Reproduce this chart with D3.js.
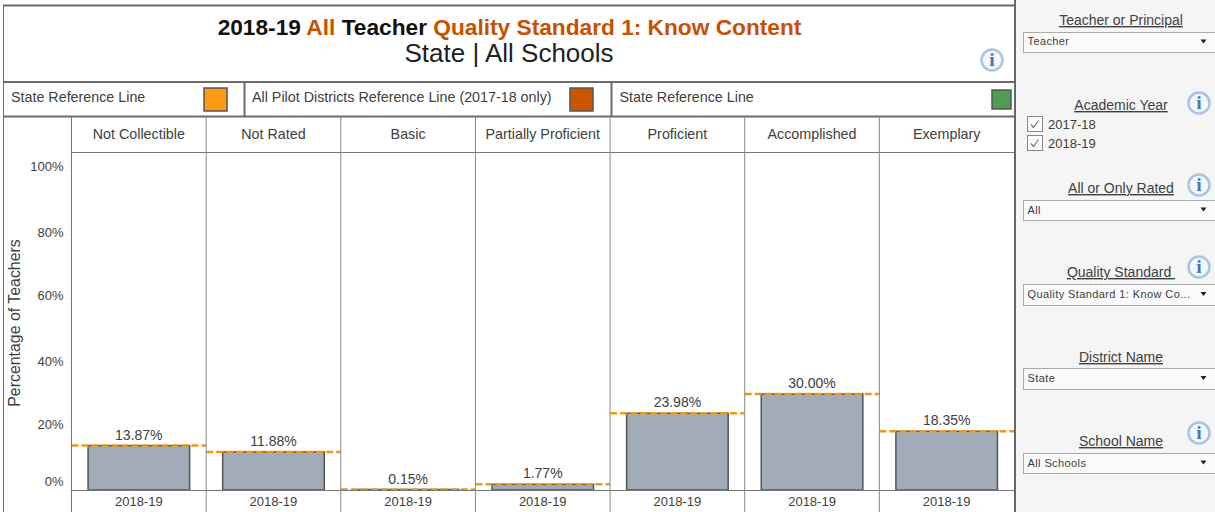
<!DOCTYPE html>
<html>
    <head>
        <meta charset="utf-8">
        <script src="https://d3js.org/d3.v7.min.js"></script>
        <style>
            html, body { margin: 0; padding: 0; background: #fff; }
            svg { display: block; }
            text { font-family: "Liberation Sans", Arial, sans-serif; fill: #404040; }
        </style>
    </head>
    <body>
        <script>
var w = 1215
var h = 512

var categories = ['Not Collectible', 'Not Rated', 'Basic', 'Partially Proficient', 'Proficient', 'Accomplished', 'Exemplary']
var years = ['2018-19']
var values = [13.87, 11.88, 0.15, 1.77, 23.98, 30.00, 18.35]
var stateRefValues = [13.87, 11.88, 0.15, 1.77, 23.98, 30.00, 18.35]
var yTicks = [0, 20, 40, 60, 80, 100]

var legendLabels = ['State Reference Line', 'All Pilot Districts Reference Line (2017-18 only)', 'State Reference Line']
var legendColors = ['#ff9a17', '#cc5500', '#4f9d4f']

var titleParts = [
  {text: '2018-19 ', hot: false},
  {text: 'All ', hot: true},
  {text: 'Teacher ', hot: false},
  {text: 'Quality Standard 1: Know Content', hot: true}
]
var subtitle = 'State | All Schools'

var filterTitles = ['Teacher or Principal', 'Academic Year', 'All or Only Rated', 'Quality Standard ', 'District Name', 'School Name']
var dropdownValues = ['Teacher', 'All', 'Quality Standard 1: Know Co...', 'State', 'All Schools']
var checkYears = ['2017-18', '2018-19']

var svg = d3.select('body').append('svg').attr('width', w).attr('height', h)

var line = function(x1, y1, x2, y2, color, width) {
  return svg.append('line')
    .attr('x1', x1).attr('y1', y1).attr('x2', x2).attr('y2', y2)
    .attr('stroke', color).attr('stroke-width', width)
}

var infoIcon = function(cx, cy, r) {
  var g = svg.append('g').attr('transform', 'translate(' + cx + ',' + cy + ')')
  g.append('circle').attr('r', r - 1).attr('fill', '#f4f8fc').attr('stroke', '#a9c4e2').attr('stroke-width', 2.5)
  g.append('text').text('i')
    .attr('text-anchor', 'middle').attr('y', r * 0.55)
    .style('font-family', '"Liberation Serif", serif').style('font-weight', 'bold')
    .style('font-size', (r * 1.7) + 'px').style('fill', '#3f76b5')
}

// sidebar background
svg.append('rect').attr('x', 1016).attr('y', 0).attr('width', 199).attr('height', h).attr('fill', '#f5f5f5')

// title block
var title = svg.append('text').attr('x', 509.5).attr('y', 34.5).attr('text-anchor', 'middle')
  .style('font-size', '22.7px').style('font-weight', 'bold').style('white-space', 'pre')
title.selectAll('tspan').data(titleParts).enter().append('tspan')
  .text(function(d) { return d.text })
  .style('fill', function(d) { return d.hot ? '#c85000' : '#111' })

svg.append('text').text(subtitle).attr('x', 509).attr('y', 62).attr('text-anchor', 'middle')
  .style('font-size', '26px').style('fill', '#222')

infoIcon(992, 60, 11.5)

// legend row
var legendX = [11, 252, 619.5]
var swatchBox = [[204, 88, 23, 23], [570, 88, 23, 23], [992, 90, 19, 19]]

svg.selectAll('.legend-label').data(legendLabels).enter().append('text')
  .attr('class', 'legend-label')
  .text(function(d) { return d })
  .attr('x', function(d, i) { return legendX[i] })
  .attr('y', 102)
  .style('font-size', '14.3px')

svg.selectAll('.legend-swatch').data(legendColors).enter().append('rect')
  .attr('class', 'legend-swatch')
  .attr('x', function(d, i) { return swatchBox[i][0] })
  .attr('y', function(d, i) { return swatchBox[i][1] })
  .attr('width', function(d, i) { return swatchBox[i][2] })
  .attr('height', function(d, i) { return swatchBox[i][3] })
  .attr('fill', function(d) { return d })
  .attr('stroke', '#555').attr('stroke-width', 1.5)

// scales
var x = d3.scaleBand().domain(categories).range([71.5, 1014])
var xInner = d3.scaleBand().domain(years).range([0, x.bandwidth()]).padding(0.14)
var y = d3.scaleLinear().domain([0, 100]).range([490, 170])

// bars
var panels = svg.selectAll('.panel').data(categories).enter().append('g')
  .attr('class', 'panel')
  .attr('transform', function(d) { return 'translate(' + x(d) + ',0)' })

panels.append('rect')
  .attr('x', xInner(years[0]))
  .attr('y', function(d, i) { return y(values[i]) })
  .attr('width', xInner.bandwidth())
  .attr('height', function(d, i) { return y(0) - y(values[i]) })
  .attr('fill', '#a2acb8')
  .attr('stroke', '#555')
  .attr('stroke-width', 1.5)

panels.append('line')
  .attr('x1', 0).attr('x2', x.bandwidth())
  .attr('y1', function(d, i) { return y(stateRefValues[i]) })
  .attr('y2', function(d, i) { return y(stateRefValues[i]) })
  .attr('stroke', '#e89a1f')
  .attr('stroke-width', 2.5)
  .attr('stroke-dasharray', '7 3')

panels.append('text')
  .text(function(d, i) { return values[i].toFixed(2) + '%' })
  .attr('x', x.bandwidth() / 2)
  .attr('y', function(d, i) { return y(values[i]) - 6 })
  .attr('text-anchor', 'middle')
  .style('font-size', '14px')

panels.append('text')
  .text(function(d) { return d })
  .attr('x', x.bandwidth() / 2).attr('y', 139)
  .attr('text-anchor', 'middle')
  .style('font-size', '14.3px')

panels.append('text')
  .text(years[0])
  .attr('x', x.bandwidth() / 2).attr('y', 506)
  .attr('text-anchor', 'middle')
  .style('font-size', '13px')

// y axis, the tableau labels sit a little above their ticks
var tickShift = {0: -9, 20: -2, 40: -1, 60: -3, 80: -2, 100: -4}
var axis = svg.append('g')
  .attr('transform', 'translate(71.5,0)')
  .call(d3.axisLeft(y).tickValues(yTicks).tickSize(3).tickPadding(5).tickFormat(function(d) { return d + '%' }))
axis.select('.domain').remove()
axis.selectAll('.tick line').attr('stroke', '#e6e6e6')
axis.selectAll('.tick text')
  .attr('dy', function(d) { return (tickShift[d] + 4.5) + 'px' })
  .style('font-size', '13px')
  .style('font-family', '"Liberation Sans", Arial, sans-serif')
  .attr('fill', null)

svg.append('text').text('Percentage of Teachers')
  .attr('transform', 'translate(20,323) rotate(-90)')
  .attr('text-anchor', 'middle')
  .style('font-size', '15.9px')

// frame and dividers
line(3, 5.5, 1015, 5.5, '#6b6b6b', 2)
line(3.5, 5, 3.5, 116, '#6b6b6b', 1)
line(3, 82, 1015, 82, '#6b6b6b', 2)
line(3, 116.5, 1015, 116.5, '#6b6b6b', 2)
line(244.5, 82, 244.5, 116, '#6b6b6b', 2)
line(611.5, 82, 611.5, 116, '#6b6b6b', 2)
line(71.5, 152.5, 1014, 152.5, '#777', 1)
line(71.5, 490.5, 1014, 490.5, '#777', 1)
line(3.5, 116, 3.5, h, '#6b6b6b', 1)
x.domain().forEach(function(d, i) {
  if (i === 0) line(x(d), 116, x(d), h, '#777', 1)
  else line(x(d), 116, x(d), h, '#888', 1)
})
line(1015, 0, 1015, h, '#666', 2)

// sidebar filters
var titleY = [25, 110, 193, 277, 362, 446]
svg.selectAll('.filter-title').data(filterTitles).enter().append('text')
  .attr('class', 'filter-title')
  .text(function(d) { return d })
  .attr('x', 1121)
  .attr('y', function(d, i) { return titleY[i] })
  .attr('text-anchor', 'middle')
  .style('font-size', '14px')
  .style('white-space', 'pre')
  .style('text-decoration', 'underline')

var boxY = [[32, 20], [200, 20], [284, 21], [368, 21], [453, 20]]
var dropTextY = [45, 214, 298, 382, 467]
svg.selectAll('.drop-box').data(dropdownValues).enter().append('rect')
  .attr('class', 'drop-box')
  .attr('x', 1023.5)
  .attr('y', function(d, i) { return boxY[i][0] + 0.5 })
  .attr('width', 193)
  .attr('height', function(d, i) { return boxY[i][1] })
  .attr('fill', '#fafafa')
  .attr('stroke', '#aaa')

svg.selectAll('.drop-label').data(dropdownValues).enter().append('text')
  .attr('class', 'drop-label')
  .text(function(d) { return d })
  .attr('x', 1027.5)
  .attr('y', function(d, i) { return dropTextY[i] })
  .style('font-size', '11px')
  .style('letter-spacing', '0.4px')

svg.selectAll('.drop-arrow').data(dropdownValues).enter().append('path')
  .attr('class', 'drop-arrow')
  .attr('d', function(d, i) {
    var my = boxY[i][0] + boxY[i][1] / 2 - 0.5
    return 'M1200.5,' + (my - 2) + 'h6l-3,4z'
  })
  .attr('fill', '#222')

var checkY = [124, 143]
svg.selectAll('.check-box').data(checkYears).enter().append('rect')
  .attr('class', 'check-box')
  .attr('x', 1027.5)
  .attr('y', function(d, i) { return checkY[i] - 7.5 })
  .attr('width', 15).attr('height', 15)
  .attr('fill', '#fafafa').attr('stroke', '#888')

svg.selectAll('.check-mark').data(checkYears).enter().append('path')
  .attr('class', 'check-mark')
  .attr('d', function(d, i) { return 'M1031,' + (checkY[i] + 0.5) + 'l2.5,3l5,-7' })
  .attr('fill', 'none').attr('stroke', '#777').attr('stroke-width', 1.2)

svg.selectAll('.check-label').data(checkYears).enter().append('text')
  .attr('class', 'check-label')
  .text(function(d) { return d })
  .attr('x', 1048)
  .attr('y', function(d, i) { return checkY[i] + 5 })
  .style('font-size', '13px')

infoIcon(1199, 103, 11.5)
infoIcon(1199, 185, 11.5)
infoIcon(1199, 267, 11.5)
infoIcon(1199, 433, 11.5)
        </script>
    </body>
</html>
